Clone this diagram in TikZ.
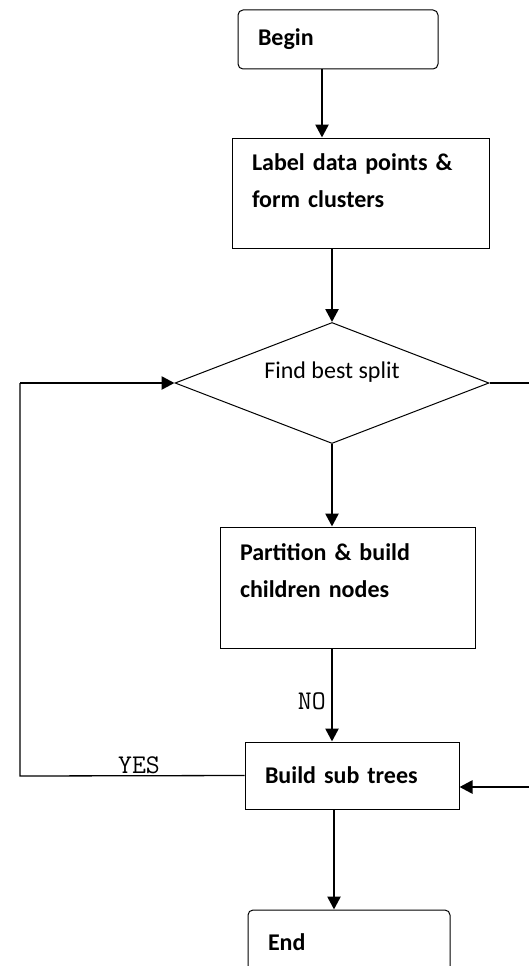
\documentclass[tikz,border=0pt]{standalone}
\usepackage{fontspec}
\setmainfont{Carlito}
\usetikzlibrary{shapes.geometric,arrows.meta}

\tikzset{
  stepbox/.style={draw, line width=1pt, inner xsep=20pt, inner ysep=0pt, align=left,
    font=\fontsize{24}{37}\selectfont\bfseries},
  link/.style={line width=2.6pt, -{Triangle[length=13pt,width=13pt]}},
  loopline/.style={line width=1.3pt},
  answer/.style={font=\ttfamily\fontsize{27}{27}\selectfont}
}

\begin{document}
\begin{tikzpicture}[x=1pt,y=-1pt]
  \useasboundingbox (0,0) rectangle (529,966);
  \clip (0,0) rectangle (529,966);

  \node[stepbox, rounded corners=5pt, text width=160pt, minimum height=59pt] (begin) at (338,39.5) {Begin};
  \node[stepbox, text width=217pt, minimum height=110pt, text height=0pt, text depth=46pt] (label) at (360.5,193)
    {Label data points \&\\form clusters};
  \node[draw, line width=1pt, diamond, aspect=2.6, inner sep=0pt, minimum width=314pt, minimum height=121pt,
    text height=0pt, text depth=10pt, font=\fontsize{24}{24}\selectfont] (split) at (332,383) {Find best split};
  \node[stepbox, text width=215pt, minimum height=121pt, text height=0pt, text depth=55pt] (part) at (347.5,587.5)
    {Partition \& build\\children nodes};
  \node[stepbox, text width=174pt, minimum height=67pt] (build) at (352,775.5) {Build sub trees};
  \node[stepbox, rounded corners=5pt, text width=162pt, minimum height=64pt] (end) at (349,942) {End};

  % way back to the split
  \coordinate (lb) at (20,776);
  \coordinate (lt) at (20,383);
  \coordinate (rt) at (545,383);
  \coordinate (rb) at (545,787);

  \draw[link] ([xshift=-16pt]begin.south) -- ([xshift=-16pt]begin.south |- label.north);
  \draw[link] (label.south -| split.north) -- (split.north);
  \draw[link] (split.south) -- (split.south |- part.north);
  \draw[link] (part.south -| split.south) -- (build.north -| split.south)
    node[answer, pos=.57, left, inner sep=5pt] (no) {NO};
  \draw[link] ([xshift=2pt]build.south -| split.south) -- ([xshift=2pt]end.north -| split.south);

  \draw[loopline] (build.west) -- (lb) node[answer, pos=.47, above, inner sep=1pt] (yes) {YES} -- (lt);
  \draw[link] (lt) -- (split.west);
  \draw[loopline] (split.east) -- (rt) -- (rb);
  \draw[link] (rb) -- (build.east |- rb);
\end{tikzpicture}
\end{document}
